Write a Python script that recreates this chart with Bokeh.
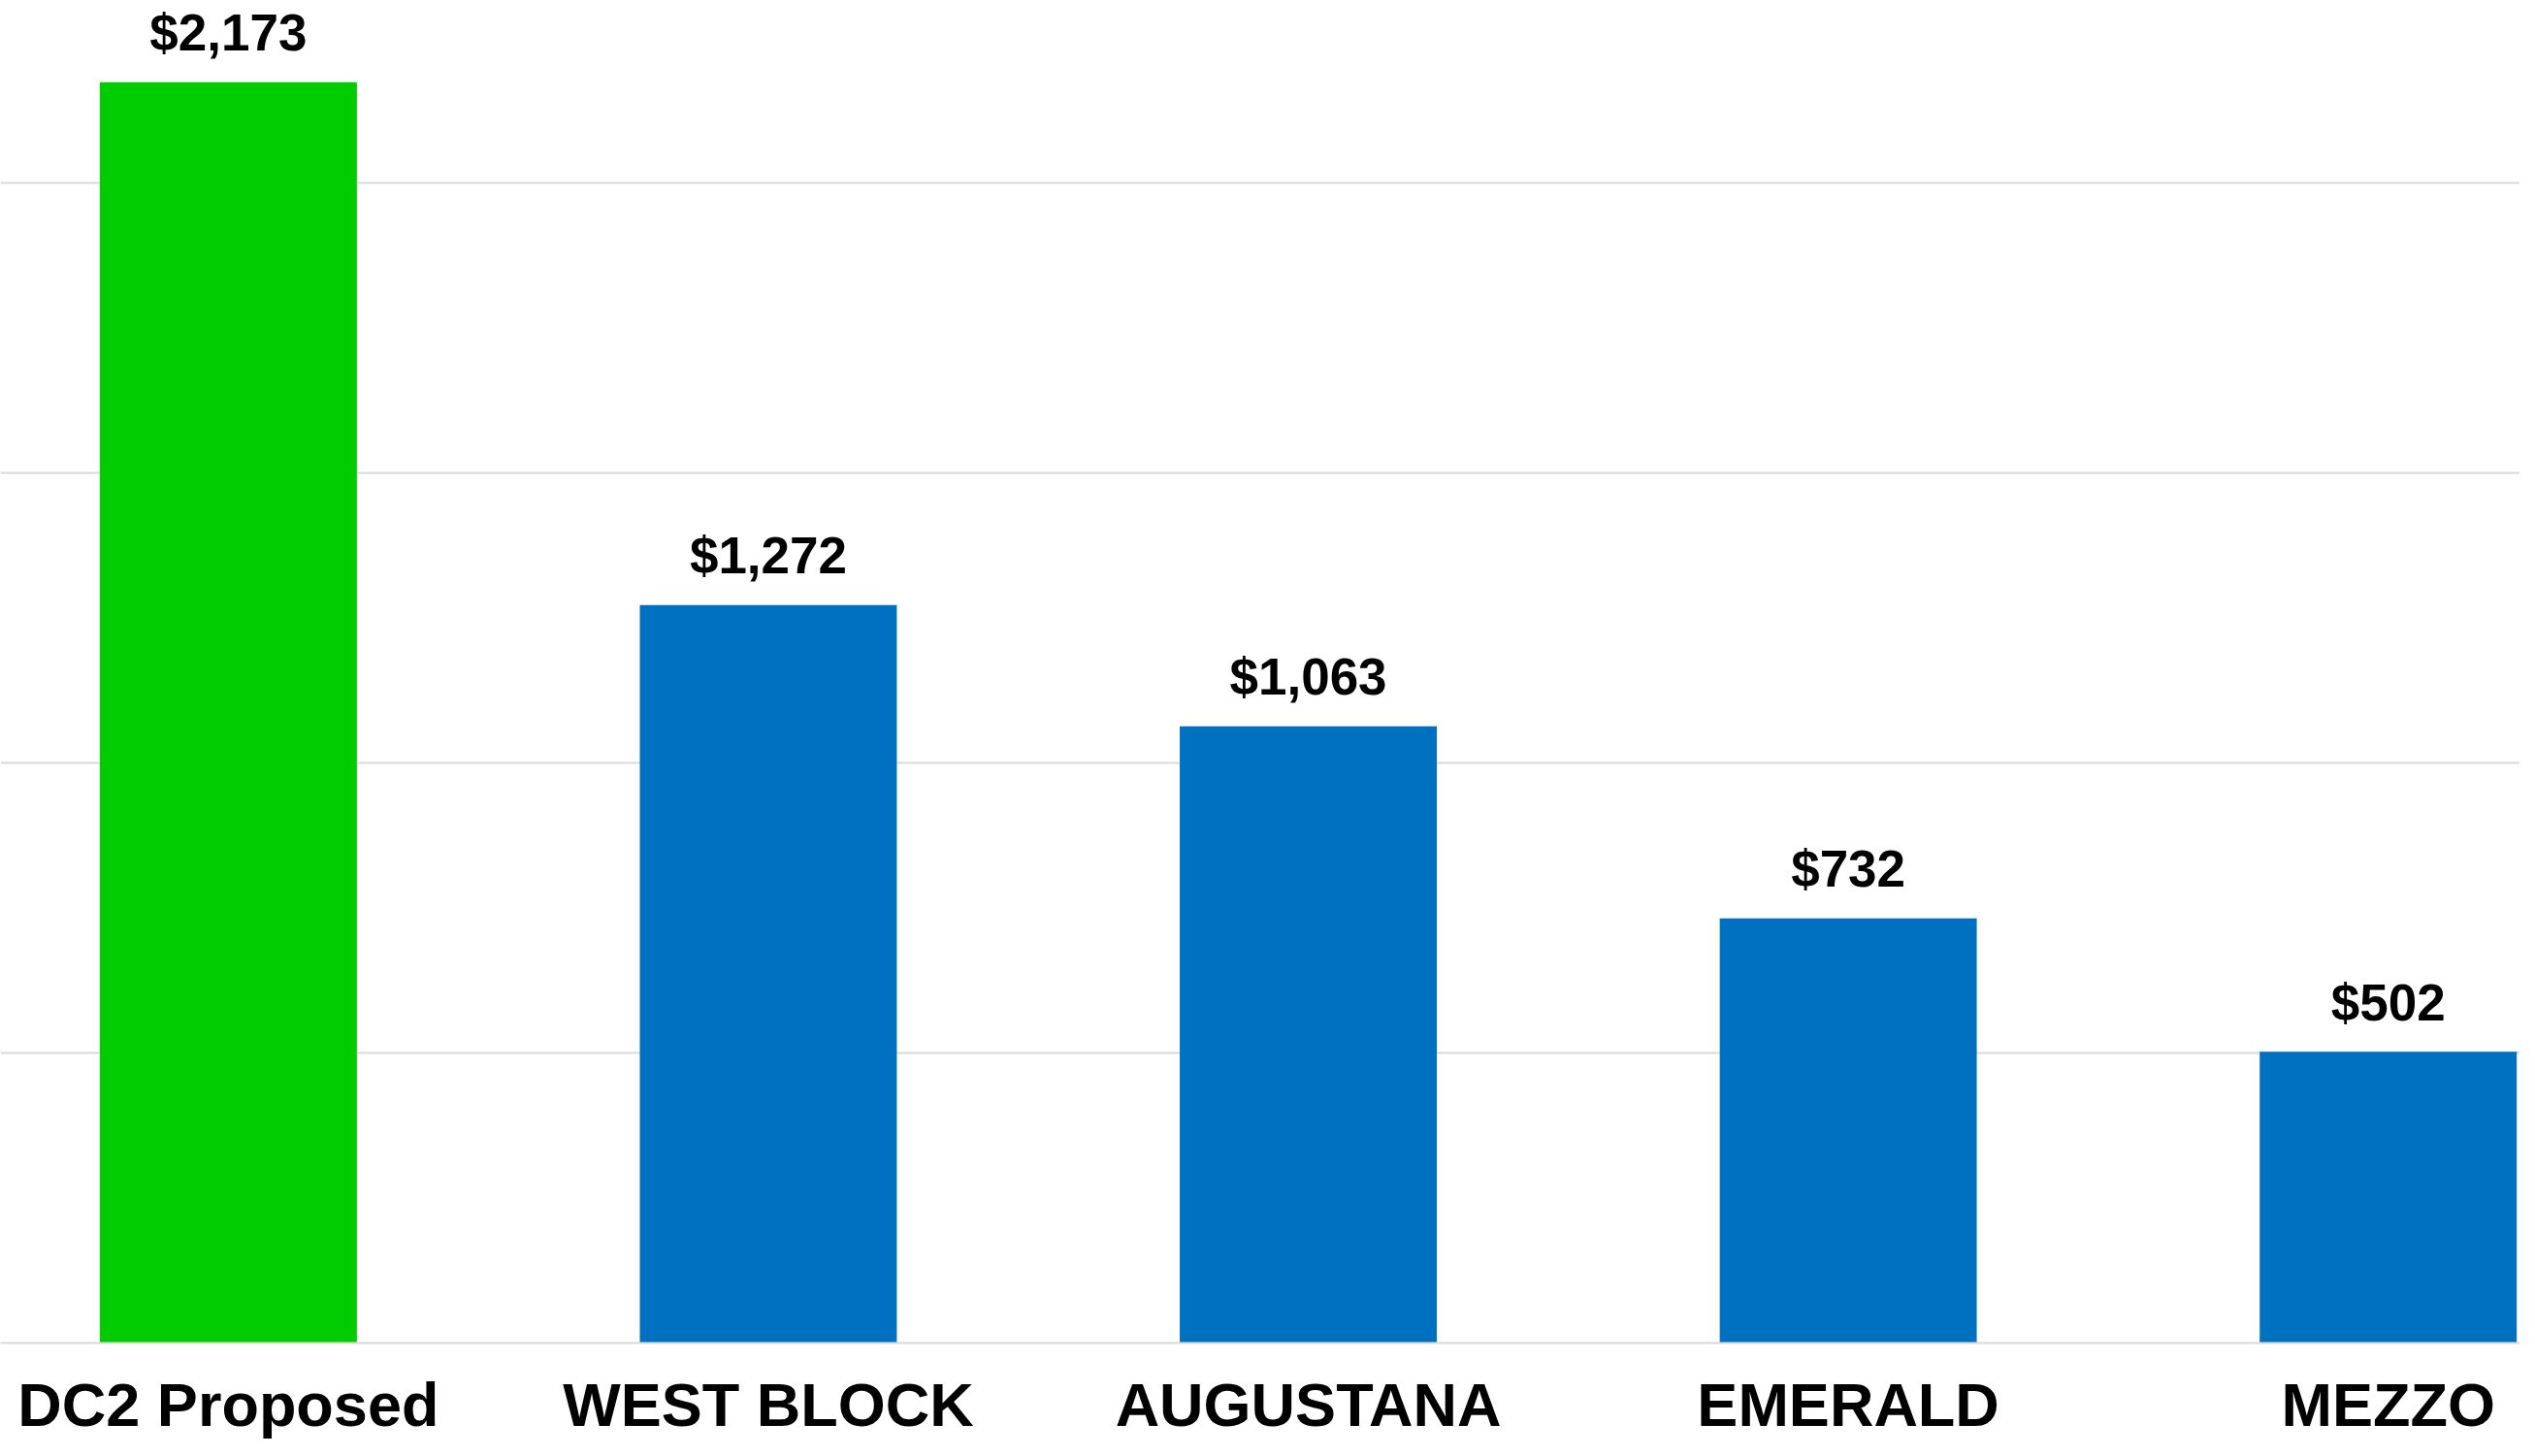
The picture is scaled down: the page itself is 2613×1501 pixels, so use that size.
from bokeh.plotting import figure
from bokeh.models import ColumnDataSource, Range1d, FixedTicker
from bokeh.embed import file_html
from bokeh.resources import INLINE
from bokeh.core.properties import value

categories = ["DC2 Proposed", "WEST BLOCK", "AUGUSTANA", "EMERALD", "MEZZO"]
amounts = [2173, 1272, 1063, 732, 502]
bar_colors = ["#00CC00", "#0070C0", "#0070C0", "#0070C0", "#0070C0"]
grid_values = [500, 1000, 1500, 2000]

idx = list(range(len(categories)))
labels = [f"${v:,}" for v in amounts]

src = ColumnDataSource(dict(x=idx, top=amounts, color=bar_colors, label=labels))

p = figure(width=2597, height=1485, output_backend="svg", toolbar_location=None,
           x_range=Range1d(-0.422, 4.244), y_range=Range1d(0, 2314),
           min_border_left=0, min_border_right=0, min_border_top=0, min_border_bottom=0)
p.outline_line_color = None
p.background_fill_color = "white"
p.border_fill_color = "white"

p.vbar(x="x", top="top", bottom=0, width=0.476, fill_color="color", line_color=None, source=src)
p.text(x="x", y="top", text="label", source=src, text_align="center",
       text_baseline="alphabetic", y_offset=-51,
       text_font=value("Liberation Sans"), text_font_style="bold",
       text_font_size="53px", text_color="black")

p.yaxis.visible = False
p.xgrid.visible = False
p.ygrid.ticker = FixedTicker(ticks=grid_values)
p.ygrid.grid_line_color = "#d9d9d9"
p.ygrid.grid_line_width = 2

xa = p.xaxis[0]
xa.ticker = FixedTicker(ticks=idx)
xa.major_label_overrides = {i: c for i, c in zip(idx, categories)}
xa.major_label_text_font = "Liberation Sans"
xa.major_label_text_font_style = "bold"
xa.major_label_text_font_size = "63px"
xa.major_label_text_color = "black"
xa.major_label_standoff = 22
xa.axis_line_color = "#d9d9d9"
xa.axis_line_width = 2
xa.major_tick_line_color = None
xa.minor_tick_line_color = None

open("out.html", "w").write(file_html(p, INLINE))
